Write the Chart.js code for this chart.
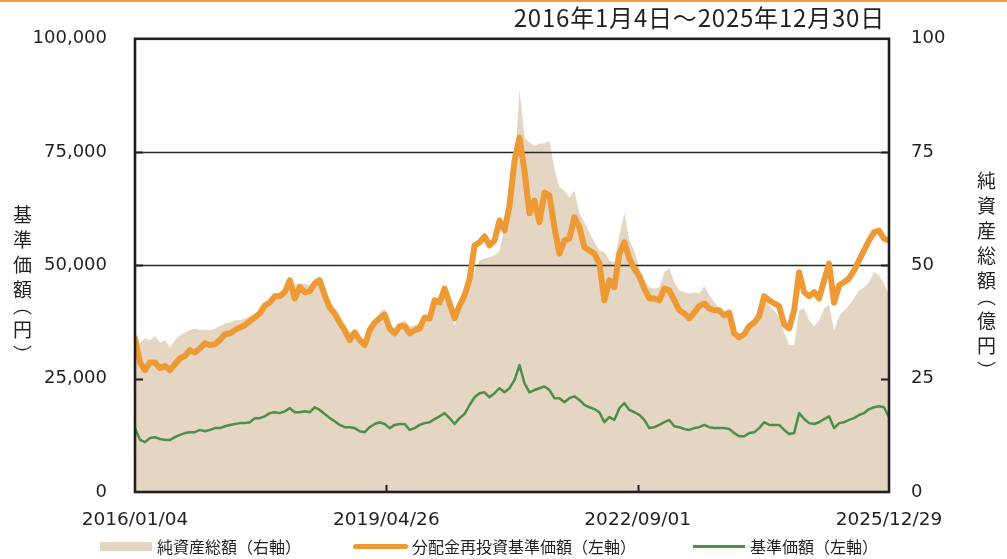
<!DOCTYPE html>
<html><head><meta charset="utf-8">
<script src="https://cdn.jsdelivr.net/npm/chart.js@4"></script>
<style>
html,body{margin:0;padding:0;background:#fff;}
#wrap{position:relative;width:1007px;height:559px;overflow:hidden;font-family:"Noto Sans CJK JP","Noto Sans",sans-serif;color:#231f20;}
#topline{position:absolute;left:0;top:0;width:1007px;height:2px;background:#ec9a3a;}
#c{position:absolute;left:0;top:0;}
.t{position:absolute;white-space:nowrap;line-height:1;}
#title{right:122px;top:5px;font-size:24px;letter-spacing:0.8px;}
.vt{writing-mode:vertical-rl;font-size:19px;letter-spacing:6px;font-feature-settings:"vpal";}
#ylt{left:13px;top:205px;}
#yrt{left:977px;top:171px;}
.lg{position:absolute;top:537px;font-size:16px;line-height:18px;white-space:nowrap;}
.sw{position:absolute;}
</style></head>
<body>
<div id="wrap">
<div id="topline"></div>
<canvas id="c" width="1007" height="559"></canvas>
<div class="t" id="title">2016年1月4日～2025年12月30日</div>
<div class="t vt" id="ylt">基準価額（円）</div>
<div class="t vt" id="yrt">純資産総額（億円）</div>
<div class="sw" style="left:100px;top:542px;width:52px;height:9px;background:#e5d5c3;"></div>
<div class="lg" style="left:157px;">純資産総額（右軸）</div>
<div class="sw" style="left:353px;top:544px;width:55px;height:5px;border-radius:3px;background:#ed9a35;"></div>
<div class="lg" style="left:412px;">分配金再投資基準価額（左軸）</div>
<div class="sw" style="left:693px;top:545px;width:52px;height:2.5px;background:#4a9048;"></div>
<div class="lg" style="left:750px;">基準価額（左軸）</div>
</div>
<script>
// 2016/01/04 - 2025/12/29, sampled evenly through the period
const xTickLabels = ['2016/01/04','2019/04/26','2022/09/01','2025/12/29'];

// 分配金再投資基準価額 (円, left axis)
const reinvestNav = [
33900,28600,26900,28600,28600,27300,27800,26900,28200,29500,
30000,31300,30800,31700,32800,32400,32600,33500,34800,35000,
35700,36300,36800,37700,38500,39400,41200,41800,43200,43200,
44100,46700,42700,45200,44100,44300,46000,46700,43400,40700,
39400,37400,35700,33500,35200,33500,32400,35700,37400,38300,
39200,36100,35000,36600,36600,35000,35700,36100,38500,38300,
42300,41800,44900,41600,38300,41200,43400,47000,54400,55100,
56400,54400,55500,59900,57700,63200,73100,78200,70900,61500,
64300,59500,66100,65400,58400,52600,55500,55900,60600,58400,
54000,53300,52600,50400,42300,46700,45200,52600,55100,51500,
49300,47600,44900,42700,42700,42300,44900,44500,42300,40100,
39400,38300,39600,41000,41600,40500,40100,40100,39000,39600,
35000,34100,34800,36600,37400,38800,43200,42300,41600,41000,
37000,36100,40100,48500,44100,43200,44100,42700,46700,50400,
41800,45600,46300,47100,48900,51100,53300,55500,57300,57700,
55900,55500];

// 基準価額 (円, left axis)
const nav = [
14100,11500,11000,11900,12100,11700,11500,11500,12100,12600,
13000,13200,13200,13700,13400,13700,14100,14100,14500,14800,
15000,15200,15200,15400,16300,16300,16700,17400,17600,17400,
17800,18500,17600,17600,17800,17600,18700,18100,17200,16300,
15600,14800,14300,14300,14100,13400,13200,14300,15000,15400,
15000,14100,14800,15000,15000,13700,14100,14800,15200,15400,
16100,16700,17400,16300,15000,16300,17200,19200,20900,21800,
22000,20900,21800,22900,22000,22900,24700,28000,24000,22000,
22500,22900,23300,22500,20700,20700,19800,20700,21100,20300,
19200,18700,18300,17600,15400,16500,15900,18500,19600,18100,
17600,17000,15900,14100,14300,14800,15400,15900,14500,14300,
13900,13700,14100,14300,14800,14300,14100,14100,14100,13900,
13000,12300,12300,13000,13200,14100,15400,14800,14800,14800,
13700,12800,13000,17400,16100,15200,15000,15400,16100,16700,
14100,15200,15400,15900,16300,17000,17400,18300,18700,18900,
18700,16500];

// 純資産総額 (億円, right axis)
const netAssets = [
33.9,32.8,33.9,33.5,34.4,33.0,33.5,31.9,33.5,34.6,
35.2,35.7,36.1,35.7,35.9,35.7,36.1,36.6,37.2,37.4,
37.9,37.9,38.3,38.8,39.4,40.1,41.4,42.7,43.8,44.1,
44.9,45.4,45.8,46.0,46.0,45.6,47.1,47.6,44.5,42.3,
40.5,38.3,36.6,35.2,35.7,33.9,32.4,35.7,37.9,39.6,
40.5,36.8,35.7,37.4,37.9,36.6,36.8,37.4,38.5,39.0,
41.2,43.8,44.1,42.3,36.8,39.6,42.3,45.6,48.9,51.1,
51.5,51.8,52.2,53.3,58.1,64.3,70.9,89.0,78.2,77.1,
76.4,76.9,76.9,77.5,71.4,67.2,66.5,65.0,66.5,61.5,
59.5,57.3,55.1,53.3,52.9,51.1,50.7,56.6,61.7,55.5,
53.3,49.3,46.7,45.2,44.9,45.2,48.5,49.3,46.3,44.5,
44.1,43.8,44.1,43.8,45.4,43.4,41.9,40.5,39.6,38.3,
35.7,33.9,33.9,36.6,37.9,41.2,42.7,41.2,40.1,38.5,
35.2,32.4,32.4,40.1,40.5,37.9,36.6,37.9,40.5,41.2,
35.7,38.8,40.1,41.2,42.7,44.5,45.2,46.3,48.5,47.8,
46.0,43.4];

const leftTicks = [0,25000,50000,75000,100000];
const rightTicks = [0,25,50,75,100];
const gridValues = [50000,75000];
const N = reinvestNav.length;
const xIdx = reinvestNav.map((_,i)=>i);
const tickPos = xTickLabels.map((_,k)=>k*(N-1)/(xTickLabels.length-1));
const ink = '#231f20';

const framePlugin = {
  id:'frame',
  afterDatasetDraw(chart,args){
    if(args.index!==0) return;
    const {ctx,chartArea:a,scales:{y}} = chart;
    ctx.save(); ctx.strokeStyle='#2a2a2a'; ctx.lineWidth=1.4;
    gridValues.forEach(v=>{const py=Math.round(y.getPixelForValue(v))+0.5;ctx.beginPath();ctx.moveTo(a.left,py);ctx.lineTo(a.right,py);ctx.stroke();});
    ctx.restore();
  },
  afterDraw(chart){
    const {ctx,chartArea:a,scales:{x,y,y2}} = chart;
    ctx.save(); ctx.strokeStyle=ink; ctx.lineWidth=2;
    leftTicks.slice(1,-1).forEach(v=>{const py=Math.round(y.getPixelForValue(v))+0.5;ctx.beginPath();ctx.moveTo(a.left,py);ctx.lineTo(a.left+8,py);ctx.stroke();});
    rightTicks.slice(1,-1).forEach(v=>{const py=Math.round(y2.getPixelForValue(v))+0.5;ctx.beginPath();ctx.moveTo(a.right-8,py);ctx.lineTo(a.right,py);ctx.stroke();});
    tickPos.slice(1,-1).forEach(v=>{const px=Math.round(x.getPixelForValue(v))+0.5;ctx.beginPath();ctx.moveTo(px,a.bottom);ctx.lineTo(px,a.bottom-7);ctx.stroke();});
    ctx.lineWidth=2.6;
    ctx.strokeRect(a.left,a.top,a.right-a.left,a.bottom-a.top);
    ctx.restore();
  }
};

new Chart(document.getElementById('c'),{
  type:'line',
  data:{
    labels:xIdx,
    datasets:[
      {label:'純資産総額（右軸）',data:xIdx.map(i=>({x:i,y:netAssets[i]})),yAxisID:'y2',fill:'origin',backgroundColor:'#e5d5c3',borderWidth:0,pointRadius:0,order:3},
      {label:'分配金再投資基準価額（左軸）',data:xIdx.map(i=>({x:i,y:reinvestNav[i]})),yAxisID:'y',borderColor:'#ed9a35',borderWidth:6,pointRadius:0,fill:false,order:2,borderJoinStyle:'round',borderCapStyle:'round'},
      {label:'基準価額（左軸）',data:xIdx.map(i=>({x:i,y:nav[i]})),yAxisID:'y',borderColor:'#4a9048',borderWidth:2.5,pointRadius:0,fill:false,order:1,borderJoinStyle:'round'}
    ]
  },
  options:{
    responsive:false,animation:false,
    layout:{padding:{top:38,left:0,right:0,bottom:0}},
    plugins:{legend:{display:false},tooltip:{enabled:false}},
    scales:{
      x:{type:'linear',min:0,max:N-1,
        afterBuildTicks:s=>{s.ticks=tickPos.map(v=>({value:v}));},
        afterFit:s=>{s.height=67;},
        grid:{display:false,drawTicks:false},border:{display:false},
        ticks:{autoSkip:false,maxRotation:0,padding:17,color:ink,font:{family:'DejaVu Sans',size:18.5},
          callback:(v,i)=>xTickLabels[i]}},
      y:{position:'left',min:0,max:100000,
        afterBuildTicks:s=>{s.ticks=leftTicks.map(v=>({value:v}));},
        afterFit:s=>{s.width=135;},
        grid:{display:false,drawTicks:false},border:{display:false},
        ticks:{padding:28,color:ink,font:{family:'DejaVu Sans',size:18},callback:v=>v.toLocaleString('en-US')}},
      y2:{position:'right',min:0,max:100,
        afterBuildTicks:s=>{s.ticks=rightTicks.map(v=>({value:v}));},
        afterFit:s=>{s.width=118;},
        grid:{display:false,drawTicks:false},border:{display:false},
        ticks:{padding:22,color:ink,font:{family:'DejaVu Sans',size:18}}}
    }
  },
  plugins:[framePlugin]
});
</script>
</body></html>
